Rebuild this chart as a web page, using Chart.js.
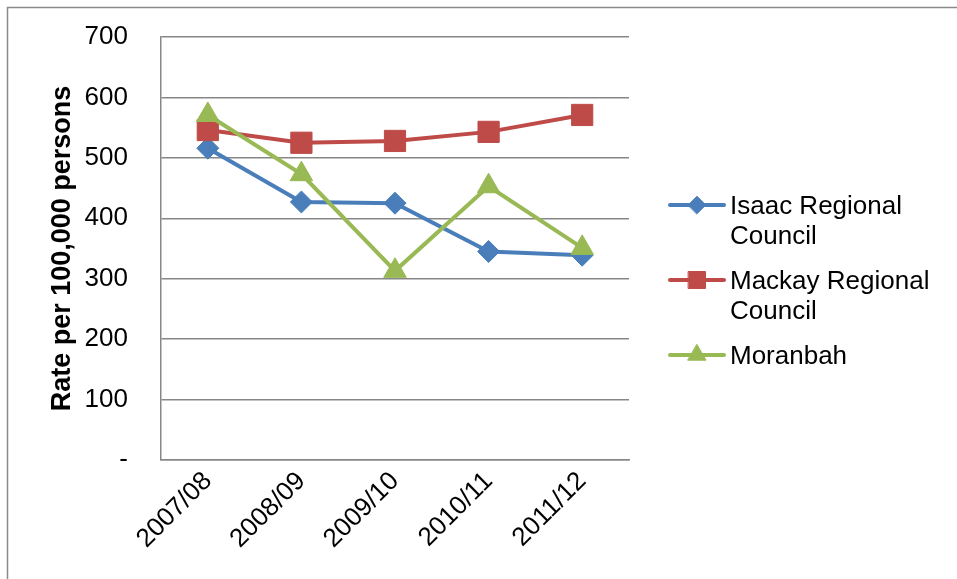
<!DOCTYPE html>
<html>
<head>
<meta charset="utf-8">
<script src="https://cdn.jsdelivr.net/npm/chart.js@4.4.0/dist/chart.umd.min.js"></script>
<style>
  html, body { margin: 0; padding: 0; background: #fff; }
  #wrap { width: 957px; height: 579px; position: relative; }
</style>
</head>
<body>
<div id="wrap"><canvas id="c" width="957" height="579"></canvas></div>
<script>
const categories = ['2007/08', '2008/09', '2009/10', '2010/11', '2011/12'];
const isaacValues = [516, 427, 425, 345, 339];
const mackayValues = [546, 525, 528, 543, 571];
const moranbahValues = [571, 473, 313, 453, 351];
const seriesNames = ['Isaac Regional Council', 'Mackay Regional Council', 'Moranbah'];
const legendLines = [['Isaac Regional', 'Council'], ['Mackay Regional', 'Council'], ['Moranbah']];
const yTickValues = [0, 100, 200, 300, 400, 500, 600, 700];
const yTickLabels = ['-', '100', '200', '300', '400', '500', '600', '700'];
const yAxisTitle = 'Rate per 100,000 persons';

const FONT = '"Liberation Sans", Arial, sans-serif';
const GRID = '#878787';
const colors = ['#4A7EBB', '#BE4B48', '#98B954'];
const shapes = ['rectRot', 'rect', 'triangle'];
const radii = [11, 15, 13];

const bgBorder = {
  id: 'bgBorder',
  beforeDraw(chart) {
    const ctx = chart.ctx;
    ctx.save();
    ctx.fillStyle = '#fff';
    ctx.fillRect(0, 0, chart.width, chart.height);
    ctx.strokeStyle = '#8a8a8a';
    ctx.lineWidth = 1.5;
    ctx.strokeRect(7.5, 7.5, 1200, 1200);
    ctx.restore();
  }
};

function drawMarker(ctx, style, r, x, y, color) {
  if (Chart.helpers && Chart.helpers.drawPoint) {
    ctx.fillStyle = color;
    ctx.strokeStyle = color;
    ctx.lineWidth = 1;
    Chart.helpers.drawPoint(ctx, {pointStyle: style, radius: r, borderWidth: 1, rotation: 0}, x, y);
  }
}

const customLegend = {
  id: 'customLegend',
  afterDraw(chart) {
    const ctx = chart.ctx;
    ctx.save();
    const x1 = 670, x2 = 724, tx = 730;
    let y = 207;
    chart.data.datasets.forEach((ds, i) => {
      const sy = y - 2;
      ctx.strokeStyle = ds.borderColor;
      ctx.lineWidth = 4;
      ctx.lineCap = 'round';
      ctx.beginPath();
      ctx.moveTo(x1, sy);
      ctx.lineTo(x2, sy);
      ctx.stroke();
      drawMarker(ctx, ds.pointStyle, ds.pointRadius * 0.8, (x1 + x2) / 2, sy, ds.borderColor);
      ctx.fillStyle = '#000';
      ctx.font = '26px ' + FONT;
      ctx.textBaseline = 'middle';
      ctx.textAlign = 'left';
      legendLines[i].forEach((line, j) => {
        ctx.fillText(line, tx, y + j * 30);
      });
      y += (legendLines[i].length - 1) * 30 + 45;
    });
    ctx.restore();
  }
};

const seriesValues = [isaacValues, mackayValues, moranbahValues];
const datasets = seriesValues.map((vals, i) => ({
  label: seriesNames[i],
  data: vals,
  borderColor: colors[i],
  backgroundColor: colors[i],
  pointBackgroundColor: colors[i],
  pointBorderColor: colors[i],
  pointStyle: shapes[i],
  pointRadius: radii[i],
  pointHoverRadius: radii[i],
  pointBorderWidth: 1,
  borderWidth: 4,
  tension: 0,
  fill: false,
  order: 2 - i
}));

new Chart(document.getElementById('c'), {
  type: 'line',
  data: { labels: categories, datasets: datasets },
  options: {
    responsive: false,
    animation: false,
    devicePixelRatio: 1,
    layout: { padding: { top: 37, right: 328, bottom: 0, left: 0 } },
    plugins: {
      legend: { display: false },
      tooltip: { enabled: false },
      title: { display: false }
    },
    scales: {
      x: {
        offset: true,
        grid: { display: false, drawTicks: false },
        border: { display: true, color: GRID, width: 1.5 },
        ticks: {
          autoSkip: false,
          maxRotation: 45,
          minRotation: 45,
          padding: 6,
          color: '#000',
          font: { family: FONT, size: 26 }
        },
        afterFit(scale) { scale.height = 119; }
      },
      y: {
        min: 0,
        max: 700,
        afterBuildTicks(scale) { scale.ticks = yTickValues.map(v => ({ value: v })); },
        grid: { display: true, color: GRID, lineWidth: 1.5, drawTicks: true, tickLength: 33, tickColor: 'rgba(0,0,0,0)' },
        border: { display: true, color: GRID, width: 1.5 },
        ticks: {
          padding: 0,
          color: '#000',
          font: { family: FONT, size: 26 },
          callback(value) {
            const idx = yTickValues.indexOf(value);
            return idx >= 0 ? yTickLabels[idx] : '';
          }
        },
        title: {
          display: true,
          text: yAxisTitle,
          color: '#000',
          font: { family: FONT, size: 27, weight: 'bold' },
          padding: { top: 46, bottom: 0 }
        },
        afterFit(scale) { scale.width = 161; }
      }
    }
  },
  plugins: [bgBorder, customLegend]
});
</script>
</body>
</html>
